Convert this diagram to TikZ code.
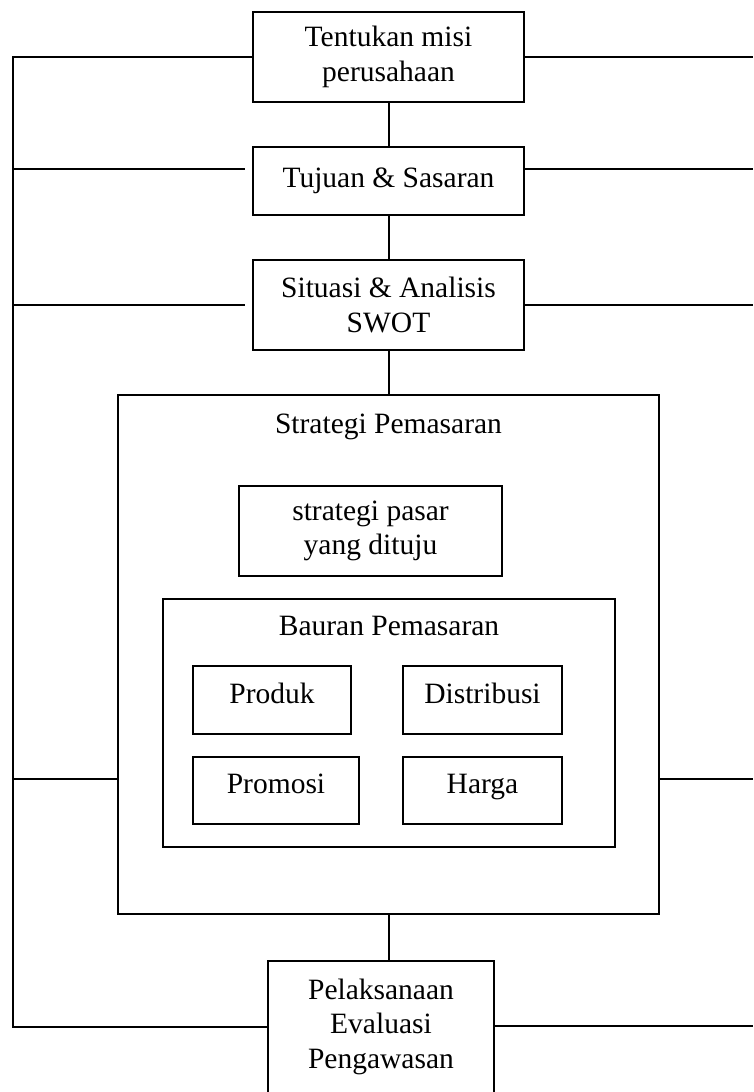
\documentclass[tikz,border=0pt]{standalone}
\usepackage{fontspec}
\setmainfont{Liberation Serif}
\usetikzlibrary{positioning,calc}

\begin{document}
\begin{tikzpicture}[x=1pt,y=-1pt,line width=2pt,
  font=\fontsize{29.5}{34.5}\selectfont,
  box/.style={draw,align=center,inner sep=0pt},
  item/.style={draw,inner sep=0pt,text height=20pt,text depth=14pt}]
\clip (0,0) rectangle (753,1092);
% main steps
\node[box,minimum width=271pt,minimum height=90pt] (misi) at (388.5,57) {Tentukan misi\\perusahaan};
\node[box,minimum width=271pt,minimum height=68pt] (tujuan) at (388.5,181) {Tujuan \& Sasaran};
\node[box,minimum width=271pt,minimum height=90pt] (swot) at (388.5,305) {Situasi \& Analisis\\SWOT};
% strategi pemasaran
\node[draw,minimum width=541pt,minimum height=519pt] (strat) at (388.5,654.5) {};
\node[anchor=base] (strattitle) at (388.5,433) {Strategi Pemasaran};
\node[box,minimum width=263pt,minimum height=90pt] (pasar) at (370.5,531) {strategi pasar\\yang dituju};
% bauran pemasaran
\node[draw,minimum width=452pt,minimum height=248pt] (bauran) at (389,723) {};
\node[anchor=base] (baurantitle) at (389,635) {Bauran Pemasaran};
\node[item,minimum width=158pt,minimum height=68pt] (produk) at (272,700) {Produk};
\node[item,minimum width=159pt,minimum height=68pt] (distribusi) at (482.5,700) {Distribusi};
\node[item,minimum width=166pt,minimum height=67pt] (promosi) at (276,790.5) {Promosi};
\node[item,minimum width=159pt,minimum height=67pt] (harga) at (482.5,790.5) {Harga};
% pelaksanaan (runs past the bottom edge)
\node[box,anchor=north,minimum width=226pt,inner ysep=18pt,text depth=120pt] (pel) at (381,960) {Pelaksanaan\\Evaluasi\\Pengawasan};
% vertical links
\draw (misi.south) -- (tujuan.north);
\draw (tujuan.south) -- (swot.north);
\draw (swot.south) -- (strat.north);
\draw (strat.south) -- (strat.south |- pel.north);
% left feedback line
\coordinate (lt) at (13,57);
\coordinate (lb) at (13,1027);
\coordinate (l2) at (13,169);
\coordinate (l3) at (13,305);
\coordinate (l4) at (13,779);
\draw (misi.west) -- (lt) -- (lb) -- (lb -| pel.west);
\draw[shorten >=7pt] (l2) -- (l2 -| tujuan.west);
\draw[shorten >=7pt] (l3) -- (l3 -| swot.west);
\draw (l4) -- (l4 -| strat.west);
% right lines
\foreach \n/\y in {misi/57,tujuan/169,swot/305,strat/779,pel/1026}{
  \coordinate (r\n) at (753,\y);
  \draw (\n.east |- r\n) -- (r\n);}
\end{tikzpicture}
\end{document}
